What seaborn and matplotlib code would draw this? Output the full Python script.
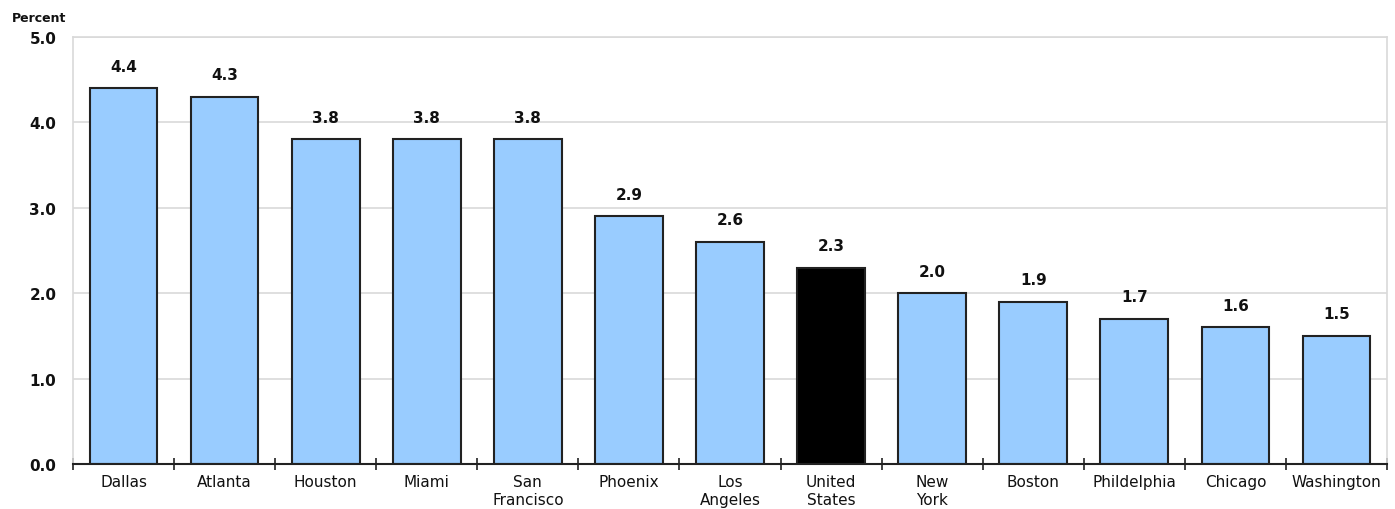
import matplotlib
matplotlib.use("Agg")
import seaborn as sns
import matplotlib.pyplot as plt
import pandas as pd
import numpy as np

# data
cities = ["Dallas", "Atlanta", "Houston", "Miami", "San\nFrancisco", "Phoenix",
          "Los\nAngeles", "United\nStates", "New\nYork", "Boston", "Phildelphia",
          "Chicago", "Washington"]
values = [4.4, 4.3, 3.8, 3.8, 3.8, 2.9, 2.6, 2.3, 2.0, 1.9, 1.7, 1.6, 1.5]
yticks = [0.0, 1.0, 2.0, 3.0, 4.0, 5.0]

df = pd.DataFrame({"city": cities, "value": values})
colors = {c: ("#000000" if c == "United\nStates" else "#99CCFF") for c in cities}

sns.set_style("white")
plt.rcParams["font.family"] = ["DejaVu Sans"]
plt.rcParams["text.color"] = "#111111"
plt.rcParams["xtick.color"] = "#111111"
plt.rcParams["ytick.color"] = "#111111"

fig = plt.figure(figsize=(13.95, 5.10), dpi=100)
ax = fig.add_axes([0.0523, 0.0882, 0.942, 0.8373])

sns.barplot(data=df, x="city", y="value", hue="city", palette=colors,
            legend=False, width=0.67, edgecolor="#222222", linewidth=1.5,
            saturation=1, ax=ax, zorder=3)

ax.set_ylim(0, 5.0)
ax.set_xlim(-0.5, len(cities) - 0.5)
ax.set_yticks(yticks)
ax.set_yticklabels([f"{t:.1f}" for t in yticks], fontweight="bold", fontsize=11)
ax.yaxis.grid(True, color="#d9d9d9", linewidth=1.2, zorder=0)
ax.tick_params(axis="y", length=0, pad=12)

ax.set_xticks(range(len(cities)))
ax.set_xticklabels(cities, fontsize=11, linespacing=1.3)
ax.tick_params(axis="x", which="major", length=0, pad=7)
ax.set_xticks(np.arange(-0.5, len(cities), 1.0), minor=True)
ax.tick_params(axis="x", which="minor", bottom=True, length=8, width=1.2,
               color="#222222", direction="inout")

for s in ["top", "right", "left"]:
    ax.spines[s].set_visible(True)
    ax.spines[s].set_color("#d9d9d9")
    ax.spines[s].set_linewidth(1.2)
ax.spines["bottom"].set_color("#222222")
ax.spines["bottom"].set_linewidth(1.5)
ax.spines["bottom"].set_zorder(5)

ax.set_xlabel("")
ax.set_ylabel("")

for i, v in enumerate(values):
    ax.text(i, v + 0.17, f"{v:.1f}", ha="center", va="bottom",
            fontweight="bold", fontsize=11)

fig.text(12 / 1395, 1 - 18 / 510, "Percent", fontweight="bold", fontsize=9,
         ha="left", va="center")

fig.savefig("out.png", dpi=100)
